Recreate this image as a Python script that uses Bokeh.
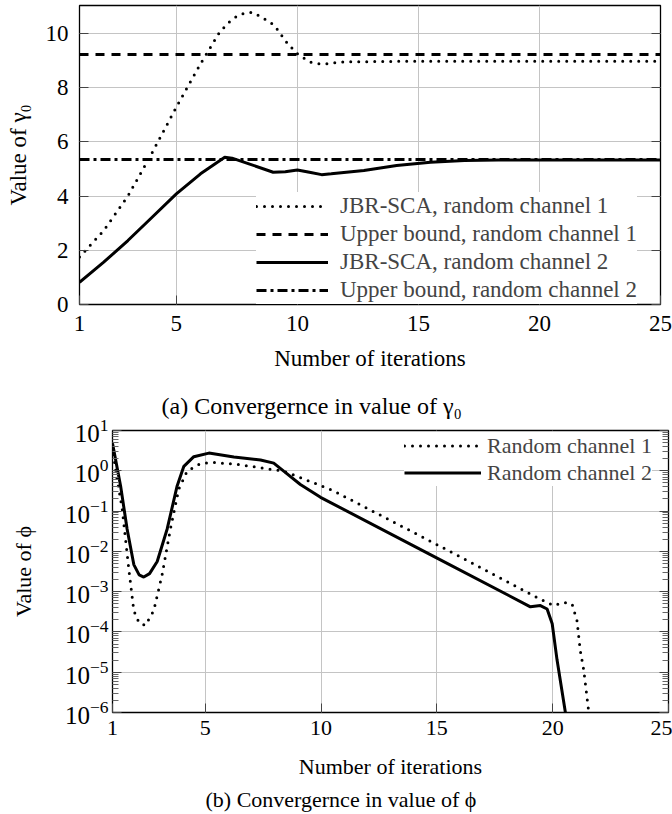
from bokeh.plotting import figure
from bokeh.models import (LinearAxis, LogAxis, FixedTicker, Legend, LegendItem,
                          Title, Range1d, LogTickFormatter, CustomJSTickFormatter)
from bokeh.layouts import column
from bokeh.embed import file_html
from bokeh.resources import INLINE

FONT = "Liberation Serif"

# ---------------- data: (a) gamma_0 ----------------
x_ticks = [1, 5, 10, 15, 20, 25]
gamma_ticks = [0, 2, 4, 6, 8, 10]

ch1_gamma_x = [1, 2, 3, 4, 5, 6, 6.75, 7.1, 7.45, 7.8, 8.15, 8.4, 8.75, 9.05, 9.3, 9.6,
               10, 10.3, 10.55, 10.9, 11.3, 11.65, 12, 13, 14, 15, 17, 20, 25]
ch1_gamma_y = [1.75, 2.73, 4.0, 5.6, 7.28, 8.88, 9.99, 10.36, 10.6, 10.75, 10.78, 10.66, 10.48,
               10.3, 9.99, 9.62, 9.25, 9.07, 8.94, 8.88, 8.88, 8.94, 8.95, 8.96, 8.97, 8.97,
               8.97, 8.97, 8.97]

ch2_gamma_x = [1, 2, 3, 4, 5, 6, 7, 7.3, 8, 9, 9.5, 10, 10.5, 11, 11.4, 12.75, 14.1, 15.5,
               16.9, 18.3, 20, 25]
ch2_gamma_y = [0.82, 1.56, 2.36, 3.22, 4.08, 4.82, 5.43, 5.4, 5.19, 4.88, 4.9, 4.96, 4.88,
               4.79, 4.82, 4.94, 5.13, 5.25, 5.31, 5.33, 5.33, 5.33]

bound_x = [1, 25]
bound1_y = [9.22, 9.22]
bound2_y = [5.35, 5.35]

legend_a = ["JBR-SCA, random channel 1", "Upper bound, random channel 1",
            "JBR-SCA, random channel 2", "Upper bound, random channel 2"]

# ---------------- data: (b) phi ----------------
phi_ticks = [1e-6, 1e-5, 1e-4, 1e-3, 1e-2, 1e-1, 1e0, 1e1]

ch1_phi_x = [1.0, 1.13, 1.42, 1.70, 1.92, 2.15, 2.42, 2.78, 3.14, 3.50, 3.86, 4.22, 4.80,
             5.37, 6.52, 7.68, 8.39, 9.11, 10.55, 15.16, 19.47, 20.05, 20.48, 20.84, 21.05,
             21.19, 21.34, 21.56]
ch1_phi_y = [4.0, 1.07, 0.112, 3.8e-3, 3.4e-4, 1.66e-4, 1.45e-4, 3.4e-4, 2.6e-3, 3.6e-2,
             0.35, 0.98, 1.51, 1.62, 1.41, 1.12, 0.98, 0.68, 0.316, 1.32e-2, 6.5e-4, 4.5e-4,
             5.4e-4, 4.9e-4, 1.9e-4, 3.5e-5, 1.15e-5, 1e-6]

ch2_phi_x = [1.0, 1.35, 1.63, 1.92, 2.15, 2.35, 2.60, 2.93, 3.36, 3.79, 4.08, 4.51, 5.16,
             6.24, 7.39, 7.96, 8.39, 9.11, 9.98, 15.01, 19.04, 19.47, 19.76, 19.98, 20.19,
             20.55]
ch2_phi_y = [4.8, 0.42, 3.6e-2, 4.7e-3, 2.6e-3, 2.3e-3, 2.8e-3, 5.6e-3, 3.6e-2, 0.42, 1.29,
             2.24, 2.75, 2.19, 1.86, 1.55, 0.98, 0.457, 0.219, 6.8e-3, 4.2e-4, 4.5e-4, 3.7e-4,
             1.6e-4, 2.0e-5, 1e-6]

legend_b = ["Random channel 1", "Random channel 2"]

caption_a = "(a) Convergernce in value of γ₀"
caption_b = "(b) Convergernce in value of ϕ"

BLANK = CustomJSTickFormatter(code="return '';")


def style_common(p, tick_size, label_size):
    p.outline_line_color = "black"
    p.outline_line_width = 1.3
    p.background_fill_color = "white"
    p.border_fill_color = "white"
    for g in (p.xgrid[0], p.ygrid[0]):
        g.grid_line_color = "#c4c4c4"
        g.grid_line_width = 1
    for ax in (p.xaxis[0], p.yaxis[0]):
        ax.axis_line_color = None
        ax.major_tick_in = 9
        ax.major_tick_out = 0
        ax.major_tick_line_color = "#444444"
        ax.minor_tick_in = 6
        ax.minor_tick_out = 0
        ax.minor_tick_line_color = "#666666"
        ax.major_label_text_font = FONT
        ax.major_label_text_font_size = tick_size
        ax.major_label_text_color = "black"
        ax.axis_label_text_font = FONT
        ax.axis_label_text_font_size = label_size
        ax.axis_label_text_font_style = "normal"
        ax.axis_label_text_color = "black"


# ---------------- figure (a) ----------------
pa = figure(width=672, height=378, output_backend="svg", toolbar_location=None,
            x_range=Range1d(1, 25), y_range=Range1d(0, 11.03), frame_align=False,
            min_border_left=79, min_border_right=12, min_border_top=5,
            min_border_bottom=74)
style_common(pa, "23px", "23px")
pa.xaxis[0].ticker = FixedTicker(ticks=x_ticks)
pa.yaxis[0].ticker = FixedTicker(ticks=gamma_ticks)
pa.xaxis[0].major_label_standoff = 11
pa.yaxis[0].major_label_standoff = 11
pa.xaxis[0].axis_label = "Number of iterations"
pa.xaxis[0].axis_label_standoff = 12
pa.yaxis[0].axis_label = "Value of γ₀"
pa.yaxis[0].axis_label_standoff = 12

ra = LinearAxis(ticker=FixedTicker(ticks=gamma_ticks), formatter=BLANK,
                major_label_standoff=0, axis_line_color=None, major_tick_in=9,
                major_tick_out=0, major_tick_line_color="#444444", minor_tick_line_color=None)
pa.add_layout(ra, "right")

r1 = pa.line(ch1_gamma_x, ch1_gamma_y, line_color="black", line_width=3,
             line_dash="0 8", line_cap="round")
r2 = pa.line(bound_x, bound1_y, line_color="black", line_width=3, line_dash="9 7")
r3 = pa.line(ch2_gamma_x, ch2_gamma_y, line_color="black", line_width=3)
r4 = pa.line(bound_x, bound2_y, line_color="black", line_width=3, line_dash="10 4 3 4")

leg_a = Legend(items=[LegendItem(label=legend_a[0], renderers=[r1]),
                      LegendItem(label=legend_a[1], renderers=[r2]),
                      LegendItem(label=legend_a[2], renderers=[r3]),
                      LegendItem(label=legend_a[3], renderers=[r4])],
               location=(177, 0), label_text_font=FONT, label_text_font_size="23px",
               glyph_width=72, glyph_height=28, label_height=28, label_standoff=12,
               spacing=0, padding=2, margin=0, border_line_color=None,
               background_fill_color="white", background_fill_alpha=1.0)
pa.add_layout(leg_a)

# ---------------- figure (b) ----------------
pb = figure(width=672, height=436, output_backend="svg", toolbar_location=None,
            x_range=Range1d(1, 25), y_range=Range1d(1e-6, 1e1), y_axis_type="log",
            frame_align=False,
            min_border_left=112, min_border_right=4, min_border_top=52,
            min_border_bottom=98)
style_common(pb, "22px", "22px")
minor = [k * t for t in phi_ticks[:-1] for k in range(2, 10)]
pb.xaxis[0].ticker = FixedTicker(ticks=x_ticks)
pb.yaxis[0].ticker = FixedTicker(ticks=phi_ticks, minor_ticks=minor)
pb.yaxis[0].formatter = LogTickFormatter()
pb.yaxis[0].major_label_text_font_size = "25px"
pb.xaxis[0].major_label_standoff = 8
pb.yaxis[0].major_label_standoff = 4
pb.xaxis[0].axis_label = "Number of iterations"
pb.xaxis[0].axis_label_standoff = 16
pb.yaxis[0].axis_label = "Value of ϕ"
pb.yaxis[0].axis_label_standoff = 26

rb = LogAxis(ticker=FixedTicker(ticks=phi_ticks, minor_ticks=minor), formatter=BLANK,
             major_label_standoff=0, axis_line_color=None, major_tick_in=9,
             major_tick_out=0, major_tick_line_color="#444444", minor_tick_in=6,
             minor_tick_out=0, minor_tick_line_color="#666666")
pb.add_layout(rb, "right")

s1 = pb.line(ch1_phi_x, ch1_phi_y, line_color="black", line_width=3,
             line_dash="0 8", line_cap="round")
s2 = pb.line(ch2_phi_x, ch2_phi_y, line_color="black", line_width=3)

leg_b = Legend(items=[LegendItem(label=legend_b[0], renderers=[s1]),
                      LegendItem(label=legend_b[1], renderers=[s2])],
               location=(292, 226), label_text_font=FONT, label_text_font_size="22px",
               glyph_width=77, glyph_height=27, label_height=27, label_standoff=6,
               spacing=0, padding=1, margin=0, border_line_color=None,
               background_fill_color="white", background_fill_alpha=1.0)
pb.add_layout(leg_b)

# caption of panel (a) sits between the two panels
cap_a = Title(text=caption_a, align="left", offset=49,
              text_font=FONT, text_font_size="24px", text_font_style="normal",
              text_color="black", standoff=24)
pb.add_layout(cap_a, "above")

cap_b = Title(text=caption_b, align="left", offset=93,
              text_font=FONT, text_font_size="22px", text_font_style="normal",
              text_color="black", standoff=6)
pb.add_layout(cap_b, "below")

layout = column(pa, pb, spacing=0)
open("out.html", "w").write(file_html(layout, INLINE))
